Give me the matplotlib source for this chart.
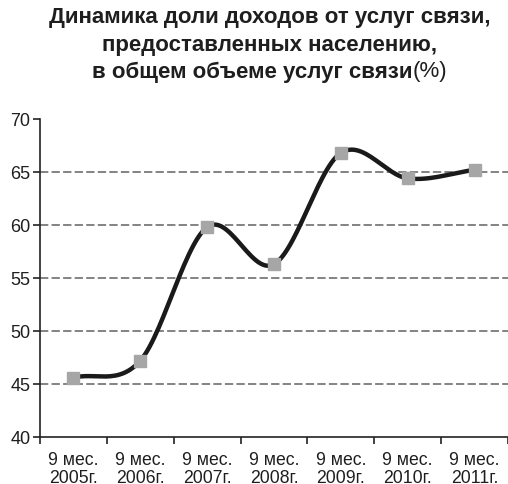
import numpy as np
import matplotlib
matplotlib.use('Agg')
import matplotlib.pyplot as plt

plt.rcParams['font.family'] = ['Liberation Sans', 'DejaVu Sans']

# данные
periods = ['9 мес.\n2005г.', '9 мес.\n2006г.', '9 мес.\n2007г.', '9 мес.\n2008г.',
           '9 мес.\n2009г.', '9 мес.\n2010г.', '9 мес.\n2011г.']
share = [45.6, 47.2, 59.8, 56.3, 66.8, 64.4, 65.2]
y_ticks = [40, 45, 50, 55, 60, 65, 70]
title_lines = ['Динамика доли доходов от услуг связи,',
               'предоставленных населению,',
               'в общем объеме услуг связи']
title_tail = '(%)'

txt = '#1e1e1e'


def smooth(xs, ys, n=30):
    # сглаживание как в Excel (Catmull-Rom), только для отрисовки линии
    xs = np.asarray(xs, float)
    ys = np.asarray(ys, float)
    px = np.concatenate([[2 * xs[0] - xs[1]], xs, [2 * xs[-1] - xs[-2]]])
    py = np.concatenate([[2 * ys[0] - ys[1]], ys, [2 * ys[-1] - ys[-2]]])
    ox, oy = [], []
    t = np.linspace(0, 1, n)
    for i in range(1, len(px) - 2):
        for p, o in ((px, ox), (py, oy)):
            p0, p1, p2, p3 = p[i - 1], p[i], p[i + 1], p[i + 2]
            o.extend(0.5 * (2 * p1 + (-p0 + p2) * t
                            + (2 * p0 - 5 * p1 + 4 * p2 - p3) * t ** 2
                            + (-p0 + 3 * p1 - 3 * p2 + p3) * t ** 3))
    return np.array(ox), np.array(oy)


fig = plt.figure(figsize=(5.08, 4.85), dpi=100)
ax = fig.add_axes([40 / 508, 1 - 438 / 485, 1 - 40 / 508, (438 - 120) / 485])

x = np.arange(len(share))
for v in y_ticks[1:-1]:
    ax.axhline(v, color='#7a7a7a', lw=1.3, ls=(0, (4.6, 1.8)), zorder=1)

sx, sy = smooth(x, share)
ax.plot(sx, sy, color='#1a1a1a', lw=3.2, solid_capstyle='round', zorder=3)
ax.plot(x, share, ls='none', marker='s', ms=9, mfc='#a6a6a6', mec='#a6a6a6', zorder=4)

ax.set_xlim(-0.5, len(share) - 0.5)
ax.set_ylim(40, 70)
ax.set_yticks(y_ticks)
ax.set_yticklabels([str(v) for v in y_ticks], fontsize=13, color=txt)
ax.set_xticks(np.arange(-0.5, len(share)))
ax.set_xticklabels([])
ax.set_xticks(x, minor=True)
ax.set_xticklabels(periods, minor=True, fontsize=12.7, color=txt, linespacing=1.05)
ax.tick_params(axis='x', which='minor', length=0, pad=10)
ax.tick_params(axis='both', which='major', length=5, width=1.2, color='#222222', direction='out')
ax.tick_params(axis='y', pad=2)

for s in ['top', 'right']:
    ax.spines[s].set_visible(False)
for s in ['left', 'bottom']:
    ax.spines[s].set_linewidth(1.2)
    ax.spines[s].set_color('#222222')

# заголовок
cx = 270 / 508
fs = 16
fig.text(cx, 1 - 18 / 485, title_lines[0], ha='center', va='center', fontsize=fs,
         fontweight='bold', color=txt)
fig.text(cx, 1 - 45 / 485, title_lines[1], ha='center', va='center', fontsize=fs,
         fontweight='bold', color=txt)
fig.canvas.draw()
r = fig.canvas.get_renderer()
t1 = fig.text(0, 1 - 72 / 485, title_lines[2], ha='left', va='center', fontsize=fs,
              fontweight='bold', color=txt)
t2 = fig.text(0, 1 - 72 / 485, title_tail, ha='left', va='center', fontsize=fs, color=txt)
w1 = t1.get_window_extent(r).width / fig.bbox.width
w2 = t2.get_window_extent(r).width / fig.bbox.width
left = cx - (w1 + w2) / 2
t1.set_x(left)
t2.set_x(left + w1)

fig.savefig('out.png', dpi=100)
